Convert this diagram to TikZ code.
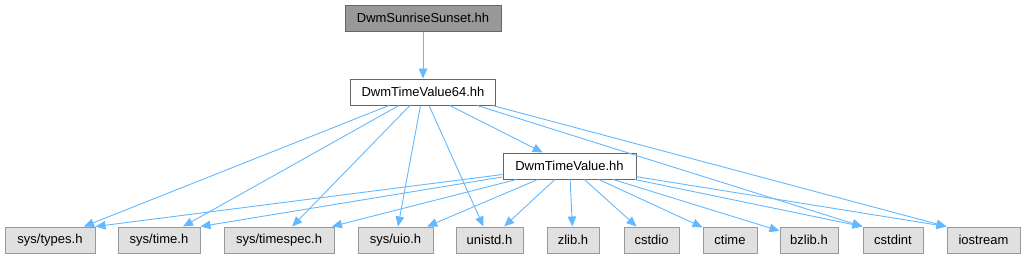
\documentclass[tikz,border=0pt]{standalone}
\usepackage{fontspec}
\setmainfont{Liberation Sans}
\usetikzlibrary{arrows.meta}
\definecolor{edgec}{HTML}{63B8FF}
\definecolor{darkfill}{HTML}{999999}
\definecolor{darkline}{HTML}{666666}
\definecolor{lightfill}{HTML}{E0E0E0}
\definecolor{lightline}{HTML}{999999}
\begin{document}
\begin{tikzpicture}[x=1pt,y=-1pt,
  box/.style={draw, rectangle, minimum height=26pt, inner xsep=0pt, inner ysep=0pt,
    line width=1pt, font=\fontsize{13}{15}\selectfont, anchor=center},
  rootbox/.style={box, fill=darkfill, draw=darkline},
  whitebox/.style={box, fill=white, draw=darkline},
  leafbox/.style={box, fill=lightfill, draw=lightline},
  dep/.style={draw=edgec, line width=0.9pt, -{Triangle[length=10pt,width=8.5pt,fill=edgec]}}]
\useasboundingbox (0,0) rectangle (1026,257);
\node[rootbox, minimum width=156pt] (root) at (423,18) {DwmSunriseSunset.hh};
\node[whitebox, minimum width=145pt] (v64) at (423,92) {DwmTimeValue64.hh};
\node[whitebox, minimum width=133pt] (v) at (569.5,166) {DwmTimeValue.hh};
\node[leafbox, minimum width=90pt] (types) at (50,240) {sys/types.h};
\node[leafbox, minimum width=82pt] (time) at (159,240) {sys/time.h};
\node[leafbox, minimum width=110pt] (timespec) at (279,240) {sys/timespec.h};
\node[leafbox, minimum width=75pt] (uio) at (395.5,240) {sys/uio.h};
\node[leafbox, minimum width=67pt] (unistd) at (489.5,240) {unistd.h};
\node[leafbox, minimum width=52pt] (zlib) at (573,240) {zlib.h};
\node[leafbox, minimum width=55pt] (cstdio) at (651.5,240) {cstdio};
\node[leafbox, minimum width=54pt] (ctime) at (730,240) {ctime};
\node[leafbox, minimum width=58pt] (bzlib) at (809,240) {bzlib.h};
\node[leafbox, minimum width=60pt] (cstdint) at (893,240) {cstdint};
\node[leafbox, minimum width=73pt] (iostream) at (983.5,240) {iostream};

\draw[dep] (root) -- (v64);
\draw[dep] (v64) -- (types);
\draw[dep] (v64) -- (time);
\draw[dep] (v64) -- (timespec);
\draw[dep] (v64) -- (uio);
\draw[dep] (v64) -- (unistd);
\draw[dep] (v64) -- (v);
\draw[dep] (v64.-14) -- (cstdint.north west);
\draw[dep] (v64.-11) -- (iostream.north west);

\draw[dep] (v) -- (types.north east);
\draw[dep] (v) -- (time.north east);
\draw[dep] (v) -- (timespec);
\draw[dep] (v) -- (uio);
\draw[dep] (v) -- (unistd);
\draw[dep] (v) -- (zlib);
\draw[dep] (v) -- (cstdio);
\draw[dep] (v) -- (ctime);
\draw[dep] (v) -- (bzlib);
\draw[dep] (v) -- (cstdint.north west);
\draw[dep] (v) -- (iostream.north west);
\end{tikzpicture}
\end{document}
